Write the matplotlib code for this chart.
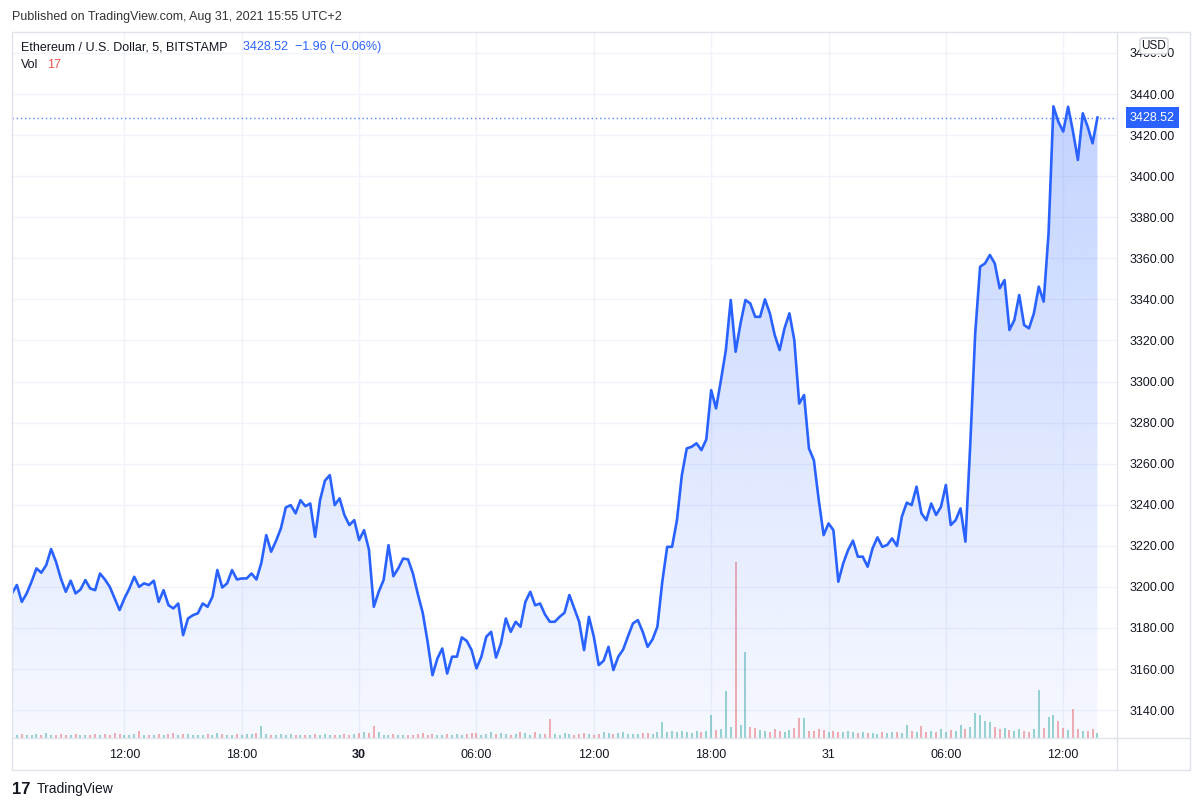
import numpy as np
import pandas as pd
import matplotlib
matplotlib.use('Agg')
import matplotlib.pyplot as plt
import matplotlib.dates as mdates
from matplotlib.colors import to_rgb
from matplotlib.patches import Rectangle, FancyBboxPatch
from matplotlib.lines import Line2D
import matplotlib.transforms as mtransforms

plt.rcParams['font.family'] = ['Liberation Sans', 'DejaVu Sans']

# ETH/USD (Bitstamp), every 15 minutes from Aug 29 06:15 UTC
start_time = '2021-08-29 06:15'
price = [
    3196.8, 3200.9, 3192.7, 3196.8, 3202.5, 3209.0, 3206.9, 3210.6, 3218.4, 3212.2,
    3204.0, 3197.6, 3203.0, 3196.8, 3198.7, 3203.3, 3199.2, 3198.4, 3206.5, 3203.6,
    3200.0, 3194.4, 3188.7, 3194.4, 3199.2, 3204.9, 3200.0, 3201.7, 3200.9, 3203.0,
    3192.7, 3198.4, 3191.1, 3189.5, 3191.9, 3176.5, 3184.6, 3186.2, 3187.1, 3191.9,
    3190.3, 3195.2, 3208.2, 3199.7, 3201.7, 3208.2, 3203.6, 3204.1, 3204.1, 3206.5,
    3203.6, 3211.7, 3225.2, 3217.1, 3222.4, 3228.5, 3238.7, 3239.8, 3235.8, 3242.2,
    3239.3, 3240.6, 3224.4, 3242.2, 3251.7, 3254.4, 3239.8, 3243.1, 3234.9, 3230.1,
    3232.5, 3222.8, 3227.6, 3218.2, 3190.3, 3197.6, 3203.3, 3220.3, 3205.2, 3209.0,
    3213.8, 3213.4, 3206.5, 3196.5, 3187.4, 3173.3, 3157.0, 3165.1, 3170.0, 3157.8,
    3166.0, 3166.0, 3175.4, 3173.7, 3169.2, 3160.3, 3166.0, 3175.7, 3178.1, 3165.6,
    3172.4, 3184.6, 3178.1, 3183.0, 3180.6, 3192.7, 3197.6, 3191.0, 3191.9, 3186.6,
    3183.0, 3183.0, 3185.4, 3187.4, 3196.0, 3189.5, 3183.0, 3169.2, 3185.4, 3175.7,
    3161.9, 3164.0, 3170.8, 3159.5, 3166.0, 3169.5, 3176.0, 3182.2, 3183.8, 3178.1,
    3170.8, 3174.4, 3180.6, 3202.5, 3219.5, 3219.5, 3232.5, 3254.4, 3267.4, 3268.2,
    3269.9, 3266.6, 3271.8, 3295.8, 3286.9, 3300.7, 3315.3, 3339.7, 3314.5, 3328.3,
    3339.7, 3338.0, 3331.5, 3331.5, 3340.0, 3333.2, 3322.6, 3315.3, 3325.9, 3333.2,
    3320.2, 3289.3, 3293.4, 3267.4, 3261.7, 3242.3, 3225.2, 3230.9, 3227.6, 3202.5,
    3211.4, 3217.9, 3222.5, 3214.7, 3214.7, 3209.8, 3218.7, 3224.1, 3219.5, 3220.4,
    3223.6, 3219.9, 3234.2, 3241.0, 3239.8, 3248.8, 3235.8, 3232.5, 3240.6, 3235.0,
    3239.0, 3249.6, 3230.1, 3232.5, 3238.2, 3222.0, 3270.0, 3323.4, 3355.9, 3357.5,
    3361.6, 3357.5, 3345.4, 3349.4, 3325.1, 3329.9, 3342.1, 3327.5, 3325.9, 3333.2,
    3346.2, 3338.9, 3372.1, 3434.0, 3426.5, 3421.7, 3433.8, 3421.7, 3407.9, 3430.6,
    3424.1, 3416.0, 3428.52,
]

# volume (ETH) per slot
volume = [
    12, 10, 14, 11, 9, 13, 12, 16, 11, 10,
    13, 12, 10, 15, 11, 12, 9, 13, 11, 14,
    12, 16, 14, 12, 11, 13, 23, 12, 10, 11,
    13, 12, 14, 18, 12, 15, 13, 11, 12, 10,
    14, 12, 16, 13, 11, 12, 15, 12, 14, 13,
    18, 42, 14, 12, 11, 13, 12, 15, 11, 12,
    10, 12, 14, 11, 13, 12, 10, 11, 13, 12,
    14, 18, 22, 16, 42, 20, 12, 11, 13, 12,
    10, 12, 11, 13, 18, 12, 14, 11, 12, 15,
    12, 14, 11, 13, 16, 18, 12, 14, 20, 13,
    16, 14, 12, 15, 22, 18, 12, 20, 14, 13,
    66, 14, 12, 16, 15, 12, 14, 18, 13, 12,
    15, 22, 18, 14, 16, 20, 14, 15, 13, 16,
    18, 15, 20, 56, 22, 24, 20, 25, 22, 19,
    24, 20, 26, 80, 28, 32, 165, 40, 616, 45,
    300, 38, 35, 28, 24, 22, 30, 26, 22, 28,
    35, 70, 70, 26, 24, 30, 28, 22, 24, 20,
    20, 26, 22, 18, 20, 16, 18, 15, 22, 18,
    20, 22, 18, 45, 24, 20, 42, 22, 25, 20,
    30, 22, 28, 24, 45, 30, 40, 88, 80, 60,
    55, 40, 30, 35, 28, 25, 30, 24, 22, 30,
    168, 35, 75, 80, 60, 35, 28, 100, 30, 26,
    24, 30, 17,
]

last_price = 3428.52
y_ticks = list(range(3140, 3461, 20))
x_tick_times = ['2021-08-29 12:00', '2021-08-29 18:00', '2021-08-30 00:00',
                '2021-08-30 06:00', '2021-08-30 12:00', '2021-08-30 18:00',
                '2021-08-31 00:00', '2021-08-31 06:00', '2021-08-31 12:00']
x_tick_labels = ['12:00', '18:00', '30', '06:00', '12:00', '18:00', '31', '06:00', '12:00']

blue = '#2962ff'
text_col = '#131722'
grid_col = '#f0f3fa'
border_col = '#e0e3eb'

times = pd.date_range(start_time, periods=len(price), freq='15min')
x = mdates.date2num(times.to_pydatetime())
price = np.array(price)

W, H = 1200, 808
fig = plt.figure(figsize=(W / 100, H / 100), dpi=100)
fig.patch.set_facecolor('white')

# plot area in pixels: x 12..1117, y 32..738
L, R, T, B = 12, 1117, 32, 738
ax = fig.add_axes([L / W, 1 - B / H, (R - L) / W, (B - T) / H])
ax.set_facecolor('white')
for s in ax.spines.values():
    s.set_visible(False)

y_lo, y_hi = 3126.4, 3470.2
x_lo = mdates.date2num(pd.Timestamp('2021-08-29 06:15'))
x_hi = mdates.date2num(pd.Timestamp('2021-08-31 14:45'))

# volume bars along the bottom
vol_top = 2471.0
vol_cols = ['#26a69a' if i == 0 or price[i] >= price[i - 1] else '#ef5350' for i in range(len(price))]
ax.vlines(x, 0, np.array(volume) / vol_top, colors=vol_cols, linewidth=1.3, alpha=0.5,
          transform=ax.get_xaxis_transform(), zorder=1)

# gradient area under the line
poly = ax.fill_between(x, price, y_lo, facecolor='none', edgecolor='none')
n = 256
grad = np.zeros((n, 1, 4))
grad[..., :3] = to_rgb(blue)
grad[:, 0, 3] = np.linspace(0.28, 0.04, n)
im = ax.imshow(grad, aspect='auto', extent=[x[0], x[-1], y_lo, price.max()],
               origin='upper', zorder=2, interpolation='bilinear')
im.set_clip_path(poly.get_paths()[0], transform=ax.transData)

ax.plot(x, price, color=blue, lw=1.9, zorder=3, solid_joinstyle='round')

# last price dotted line
ax.axhline(last_price, color=blue, lw=1, ls=(0, (1, 2)), alpha=0.8, zorder=2)

ax.set_xlim(x_lo, x_hi)
ax.set_ylim(y_lo, y_hi)

ax.set_yticks(y_ticks)
ax.set_yticklabels([f'{v:.2f}' for v in y_ticks])
ax.yaxis.tick_right()
ax.tick_params(axis='y', length=0, pad=9, labelsize=9, labelcolor=text_col)

ax.set_xticks(mdates.date2num(pd.to_datetime(x_tick_times).to_pydatetime()))
ax.set_xticklabels(x_tick_labels)
ax.tick_params(axis='x', length=0, pad=8, labelsize=9, labelcolor=text_col)
for lbl in ax.get_xticklabels():
    if lbl.get_text() == '30':
        lbl.set_fontweight('bold')

ax.grid(True, color=grid_col, lw=1, zorder=0)
ax.set_axisbelow(True)

# last price tag on the price scale
trans = mtransforms.blended_transform_factory(ax.transAxes, ax.transData)
ax.text(1.0 + 13 / (R - L), last_price, f'{last_price:.2f}', transform=trans,
        ha='left', va='center', fontsize=9, color='white', zorder=5, clip_on=False,
        bbox=dict(boxstyle='square,pad=0.35', fc=blue, ec='none'))

# frame lines
fig.add_artist(Rectangle((L / W, 1 - 770 / H), (1190 - L) / W, (770 - T) / H,
                         transform=fig.transFigure, fill=False, ec=border_col, lw=1))
fig.add_artist(Line2D([R / W, R / W], [1 - 770 / H, 1 - T / H], transform=fig.transFigure,
                      color=border_col, lw=1))
fig.add_artist(Line2D([L / W, 1190 / W], [1 - B / H, 1 - B / H], transform=fig.transFigure,
                      color=border_col, lw=1))

# USD badge over the top price label
fig.add_artist(FancyBboxPatch((1140 / W, 1 - 54 / H), 28 / W, 16 / H,
                              boxstyle='round,pad=0,rounding_size=0.003',
                              transform=fig.transFigure, fc='white', ec='#d1d4dc', lw=1, zorder=6))
fig.text(1154 / W, 1 - 46 / H, 'USD', ha='center', va='center', fontsize=8.5,
         color=text_col, zorder=7)

# header texts
fig.text(12 / W, 1 - 17 / H, 'Published on TradingView.com, Aug 31, 2021 15:55 UTC+2',
         ha='left', va='center', fontsize=9, color='#333333')
fig.text(21 / W, 1 - 47 / H, 'Ethereum / U.S. Dollar, 5, BITSTAMP',
         ha='left', va='center', fontsize=9, color=text_col)
fig.text(243 / W, 1 - 47 / H, '3428.52  \u22121.96 (\u22120.06%)',
         ha='left', va='center', fontsize=9, color=blue)
fig.text(21 / W, 1 - 65 / H, 'Vol', ha='left', va='center', fontsize=9, color=text_col)
fig.text(47 / W, 1 - 65 / H, '17', ha='left', va='center', fontsize=9, color='#ef5350')

# footer logo
fig.text(12 / W, 1 - 789 / H, '17', ha='left', va='center', fontsize=12,
         fontweight='heavy', color=text_col)
fig.text(37 / W, 1 - 789 / H, 'TradingView', ha='left', va='center', fontsize=10,
         color=text_col)

fig.savefig('out.png', dpi=100)
